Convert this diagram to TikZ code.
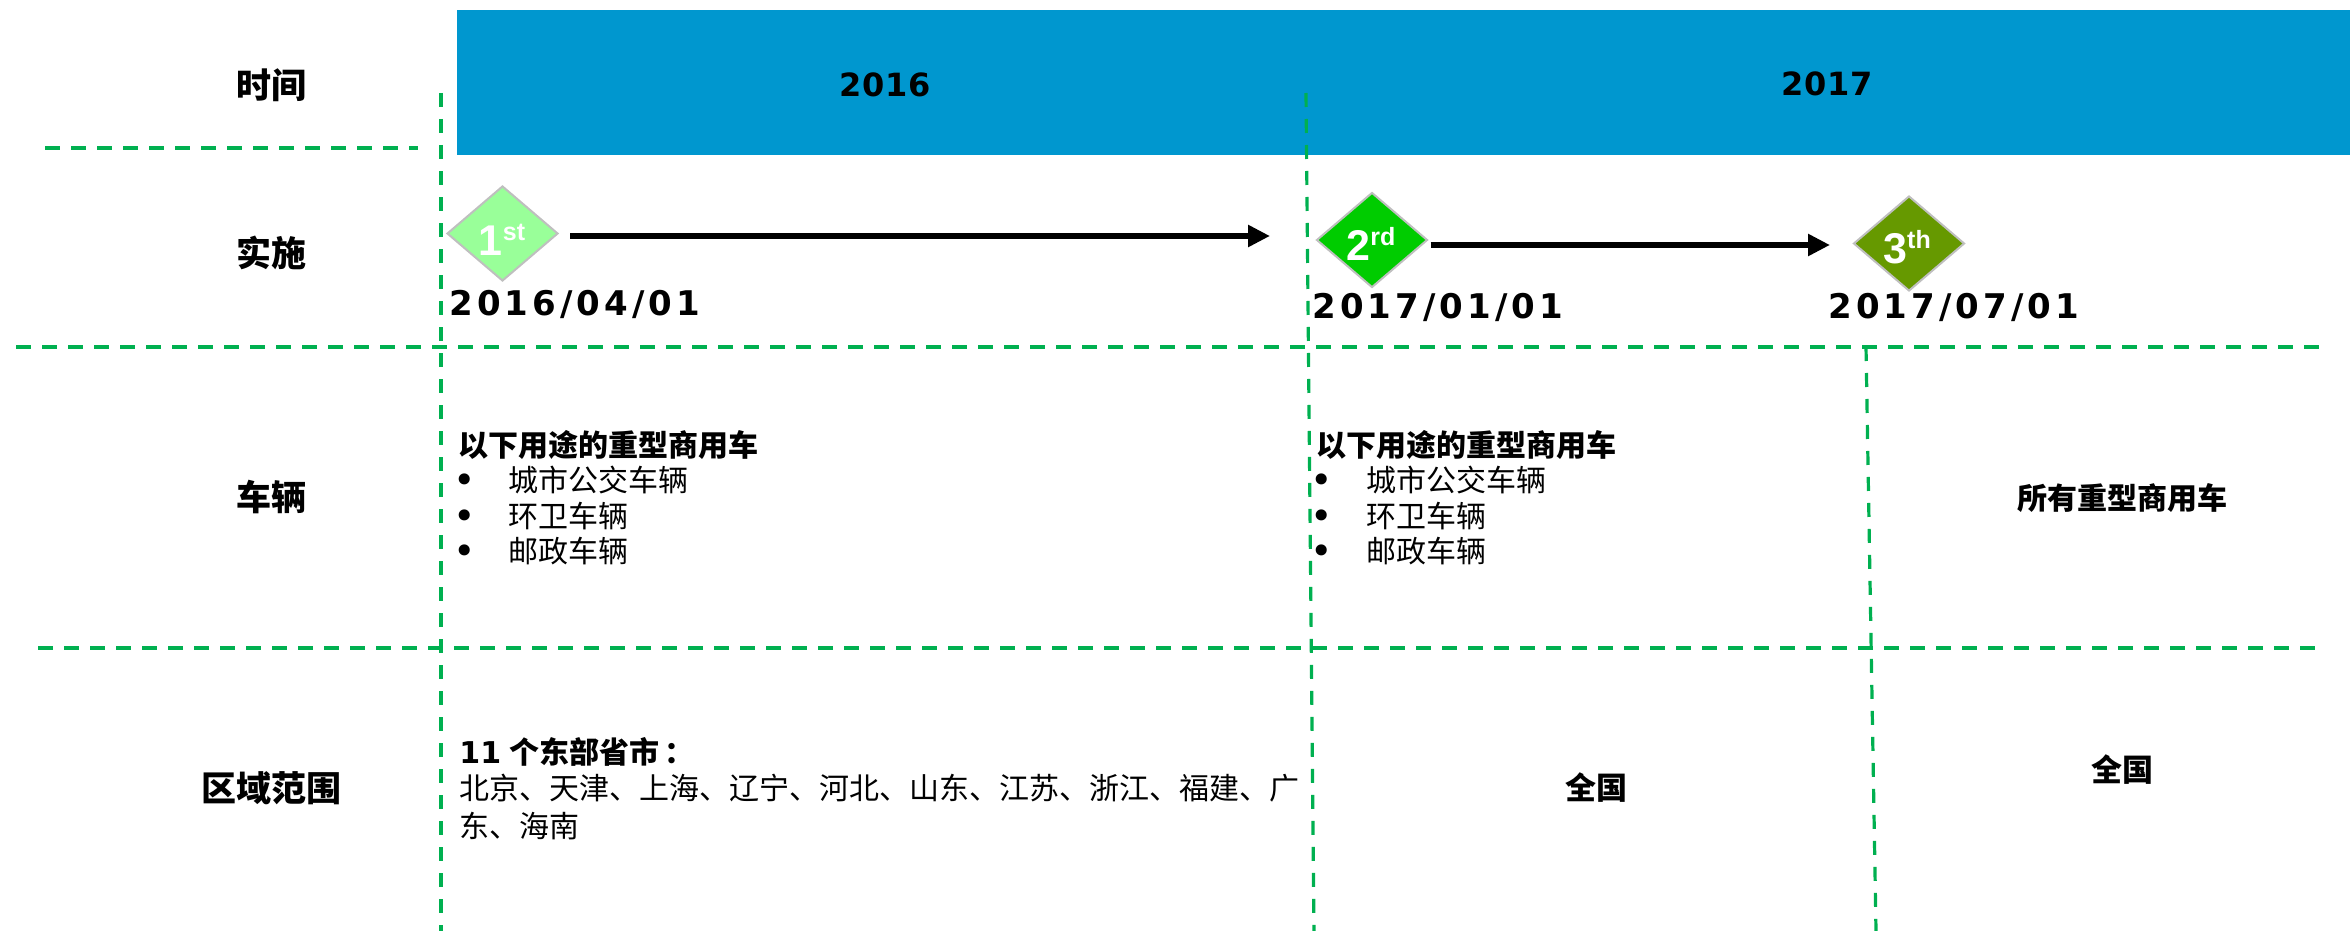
\documentclass[tikz,border=0pt]{standalone}
\usepackage{fontspec}
\setmainfont{Liberation Sans}
\newfontfamily\cjk{Noto Sans CJK SC}
\newfontfamily\datefont{DejaVu Sans}[LetterSpace=12]
\newfontfamily\yearfont{DejaVu Sans}[LetterSpace=3]
\newfontfamily\dvb{DejaVu Sans}
\usetikzlibrary{shapes.geometric,arrows.meta}
\definecolor{hdrblue}{RGB}{0,151,207}
\definecolor{gridgreen}{RGB}{0,176,80}
\definecolor{mone}{RGB}{153,255,153}
\definecolor{mtwo}{RGB}{0,204,0}
\definecolor{mthree}{RGB}{102,153,0}
\definecolor{mborder}{RGB}{191,191,191}
\newcommand\myord[2]{#1\raisebox{7.5pt}{\fontsize{12.5}{12.5}\selectfont #2}}
\begin{document}
\begin{tikzpicture}[x=0.5pt,y=-0.5pt,
  hgrid/.style={draw=gridgreen, line width=1.8pt, dash pattern=on 7.5pt off 5.5pt},
  vgrid/.style={draw=gridgreen, line width=1.6pt, dash pattern=on 7pt off 6pt},
  rowlab/.style={font=\cjk\bfseries\fontsize{17.5}{17.5}\selectfont, inner sep=0pt},
  yearlab/.style={font=\yearfont\bfseries\fontsize{16}{16}\selectfont, inner sep=0pt},
  datelab/.style={font=\datefont\bfseries\fontsize{17}{17}\selectfont, inner sep=0pt, anchor=west},
  milestone/.style={diamond, draw=mborder, line width=1pt, inner sep=0pt, minimum width=55.5pt, minimum height=47.5pt},
  mlab/.style={font=\bfseries\fontsize{21.5}{21.5}\selectfont, text=white, inner sep=0pt, anchor=base},
  conn/.style={line width=2.75pt, -{Triangle[length=11pt,width=10.5pt]}},
  bhead/.style={font=\cjk\bfseries\fontsize{15}{15}\selectfont, inner sep=0pt},
  btext/.style={font=\cjk\fontsize{15}{15}\selectfont, inner sep=0pt, anchor=west},
  bul/.style={font=\dvb\fontsize{19}{19}\selectfont, inner sep=0pt}
]
\useasboundingbox (0,0) rectangle (2350,931);
% header band
\fill[hdrblue] (457,10) rectangle (2350,155);
% grid lines
\draw[hgrid] (45,148) -- (418,148);
\draw[hgrid] (16,347) -- (2322,347);
\draw[hgrid] (38,648) -- (2322,648);
\draw[vgrid] (441,93) -- (441,931);
\draw[vgrid] (1306,93) -- (1314,931);
\draw[vgrid] (1866,347) -- (1876,931);
% row labels
\node[rowlab] (l1) at (271,85) {时间};
\node[rowlab] (l2) at (271,253) {实施};
\node[rowlab] (l3) at (271,497) {车辆};
\node[rowlab] (l4) at (271,788) {区域范围};
% years
\node[yearlab] (y16) at (885,85) {2016};
\node[yearlab] (y17) at (1827,84) {2017};
% milestones
\node[milestone, fill=mone] (d1) at (502.5,233.5) {};
\node[milestone, fill=mtwo] (d2) at (1372,240) {};
\node[milestone, fill=mthree] (d3) at (1909,243.5) {};
\node[mlab] (t1) at (502,255) {\myord{1}{st}};
\node[mlab] (t2) at (1371,260) {\myord{2}{rd}};
\node[mlab] (t3) at (1907,263) {\myord{3}{th}};
% arrows
\coordinate (a1e) at (1270,236);
\coordinate (a2e) at (1830,245);
\draw[conn] ([xshift=5.5pt,yshift=-1.25pt]d1.east) -- (a1e);
\draw[conn] ([xshift=1pt,yshift=-2.5pt]d2.east) -- (a2e);
% dates
\node[datelab] (dt1) at (449,304) {2016/04/01};
\node[datelab] (dt2) at (1312,307) {2017/01/01};
\node[datelab] (dt3) at (1828,307) {2017/07/01};
% vehicles column 1
\node[bhead, anchor=west] (v1h) at (458,445) {以下用途的重型商用车};
\node[bul] (v1b1) at (465,484) {•};
\node[btext] (v1t1) at (508,480) {城市公交车辆};
\node[bul] (v1b2) at (465,520) {•};
\node[btext] (v1t2) at (508,516) {环卫车辆};
\node[bul] (v1b3) at (465,555) {•};
\node[btext] (v1t3) at (508,551) {邮政车辆};
% vehicles column 2
\node[bhead, anchor=west] (v2h) at (1316,445) {以下用途的重型商用车};
\node[bul] (v2b1) at (1322,484) {•};
\node[btext] (v2t1) at (1366,480) {城市公交车辆};
\node[bul] (v2b2) at (1322,520) {•};
\node[btext] (v2t2) at (1366,516) {环卫车辆};
\node[bul] (v2b3) at (1322,555) {•};
\node[btext] (v2t3) at (1366,551) {邮政车辆};
% vehicles column 3
\node[bhead] (v3) at (2122,498) {所有重型商用车};
% region
\node[bhead, anchor=west] (r1h) at (459,752) {{\dvb\bfseries 11}\hspace{4pt}个东部省市\hspace{2.5pt}：};
\node[btext] (r1a) at (459,788) {北京、天津、上海、辽宁、河北、山东、江苏、浙江、福建、广};
\node[btext] (r1b) at (459,826) {东、海南};
\node[bhead, font=\cjk\bfseries\fontsize{15.5}{15.5}\selectfont] (r2) at (1596,788) {全国};
\node[bhead, font=\cjk\bfseries\fontsize{15.5}{15.5}\selectfont] (r3) at (2122,770) {全国};
\end{tikzpicture}
\end{document}
